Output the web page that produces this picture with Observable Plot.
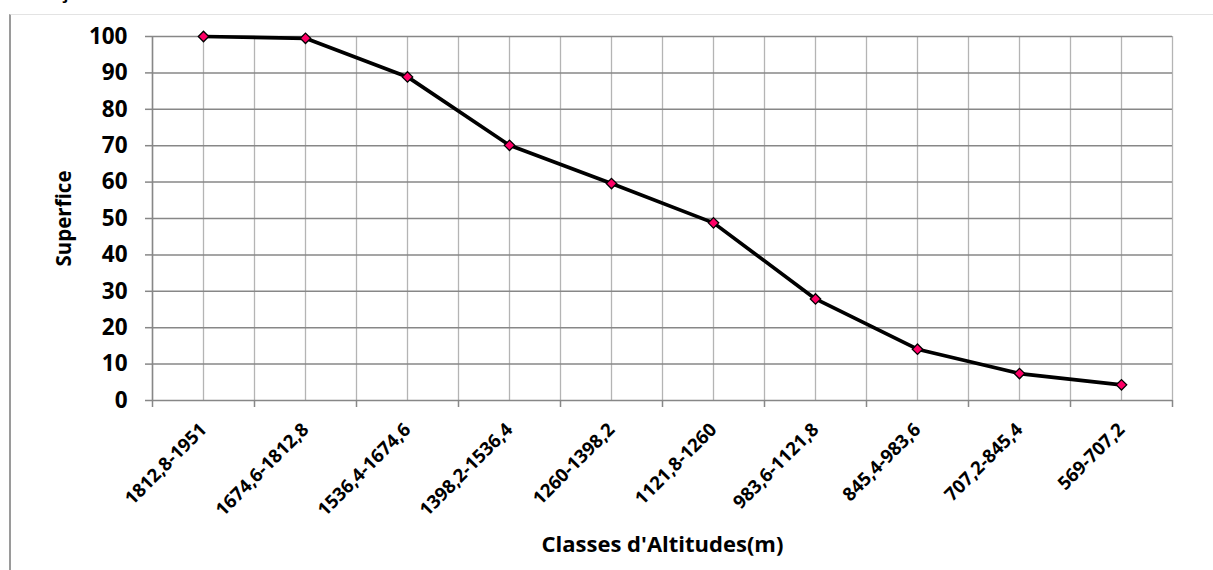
<!DOCTYPE html>
<html><head><meta charset="utf-8">
<script src="https://cdn.jsdelivr.net/npm/d3@7"></script>
<script src="https://cdn.jsdelivr.net/npm/@observablehq/plot@0.6"></script>
<style>
html,body{margin:0;padding:0;background:#fff;overflow:hidden;}
#wrap{position:relative;width:1213px;height:570px;font-family:"Open Sans", sans-serif;overflow:hidden;}
#frame{position:absolute;left:9px;top:14px;right:0;bottom:0;border-left:2px solid #9a9a9a;border-top:1px solid #e3e3e3;pointer-events:none;}
#stray{position:absolute;left:59px;top:-19px;font:bold 20px "Open Sans", sans-serif;line-height:20px;color:#000;}
svg{display:block;}
</style></head><body><div id="wrap"><div id="stray">ç</div><div id="frame"></div></div>
<script>
const categories = ["1812,8-1951","1674,6-1812,8","1536,4-1674,6","1398,2-1536,4","1260-1398,2","1121,8-1260","983,6-1121,8","845,4-983,6","707,2-845,4","569-707,2"];
const superficie = [100, 99.5, 88.9, 70.1, 59.6, 48.8, 27.9, 14.1, 7.4, 4.3];
const yTicks = [0,10,20,30,40,50,60,70,80,90,100];
const yTitle = "Superfice";
const xTitle = "Classes d'Altitudes(m)";

const data = categories.map((c, i) => ({i, c, v: superficie[i]}));
const n = categories.length;
const bounds = d3.range(n + 1).map(k => k - 0.5);
const halves = d3.range(2 * n + 1).map(k => k / 2 - 0.5);

const chart = Plot.plot({
  width: 1213, height: 570,
  marginLeft: 152, marginRight: 41, marginTop: 36, marginBottom: 170,
  style: {fontFamily: "'Open Sans', sans-serif", background: "transparent", color: "#000"},
  x: {type: "linear", domain: [-0.5, n - 0.5], label: null},
  y: {domain: [0, 100], label: null},
  marks: [
    Plot.ruleX(halves, {stroke: "#b4b4b4", strokeWidth: 1.3}),
    Plot.ruleY(yTicks.filter(d => d > 0), {stroke: "#878787", strokeWidth: 1.5}),
    Plot.ruleX([-0.5], {stroke: "#878787", strokeWidth: 1.5}),
    Plot.ruleY([0], {stroke: "#878787", strokeWidth: 1.5}),
    Plot.axisY({ticks: yTicks, tickSize: 7, tickPadding: 18, label: null, stroke: "#878787", strokeWidth: 1.5, fill: "#000", fontSize: 22.5, fontWeight: "bold"}),
    Plot.axisX({ticks: bounds, tickSize: 7, tickFormat: () => "", label: null, stroke: "#878787", strokeWidth: 1.5}),
    Plot.axisX({ticks: d3.range(n), tickSize: 0, tickPadding: 26, tickRotate: -45, tickFormat: i => categories[i], label: null, fill: "#000", fontSize: 18.5, fontWeight: "bold"}),
    Plot.line(data, {x: "i", y: "v", stroke: "#000", strokeWidth: 3.7, strokeLinejoin: "round"}),
    Plot.dot(data, {x: "i", y: "v", symbol: "diamond2", r: 4.7, fill: "#ff0066", stroke: "#000", strokeWidth: 1.3}),
    Plot.text([yTitle], {text: d => d, frameAnchor: "left", textAnchor: "middle", dx: -88, rotate: -90, fontSize: 20.5, fontWeight: "bold", fill: "#000"}),
    Plot.text([xTitle], {text: d => d, frameAnchor: "bottom", dy: 151, fontSize: 22, fontWeight: "bold", fill: "#000"})
  ]
});
document.getElementById("wrap").prepend(chart);
chart.style.position = "absolute";
chart.style.left = "0";
chart.style.top = "0";
</script>
</body></html>
